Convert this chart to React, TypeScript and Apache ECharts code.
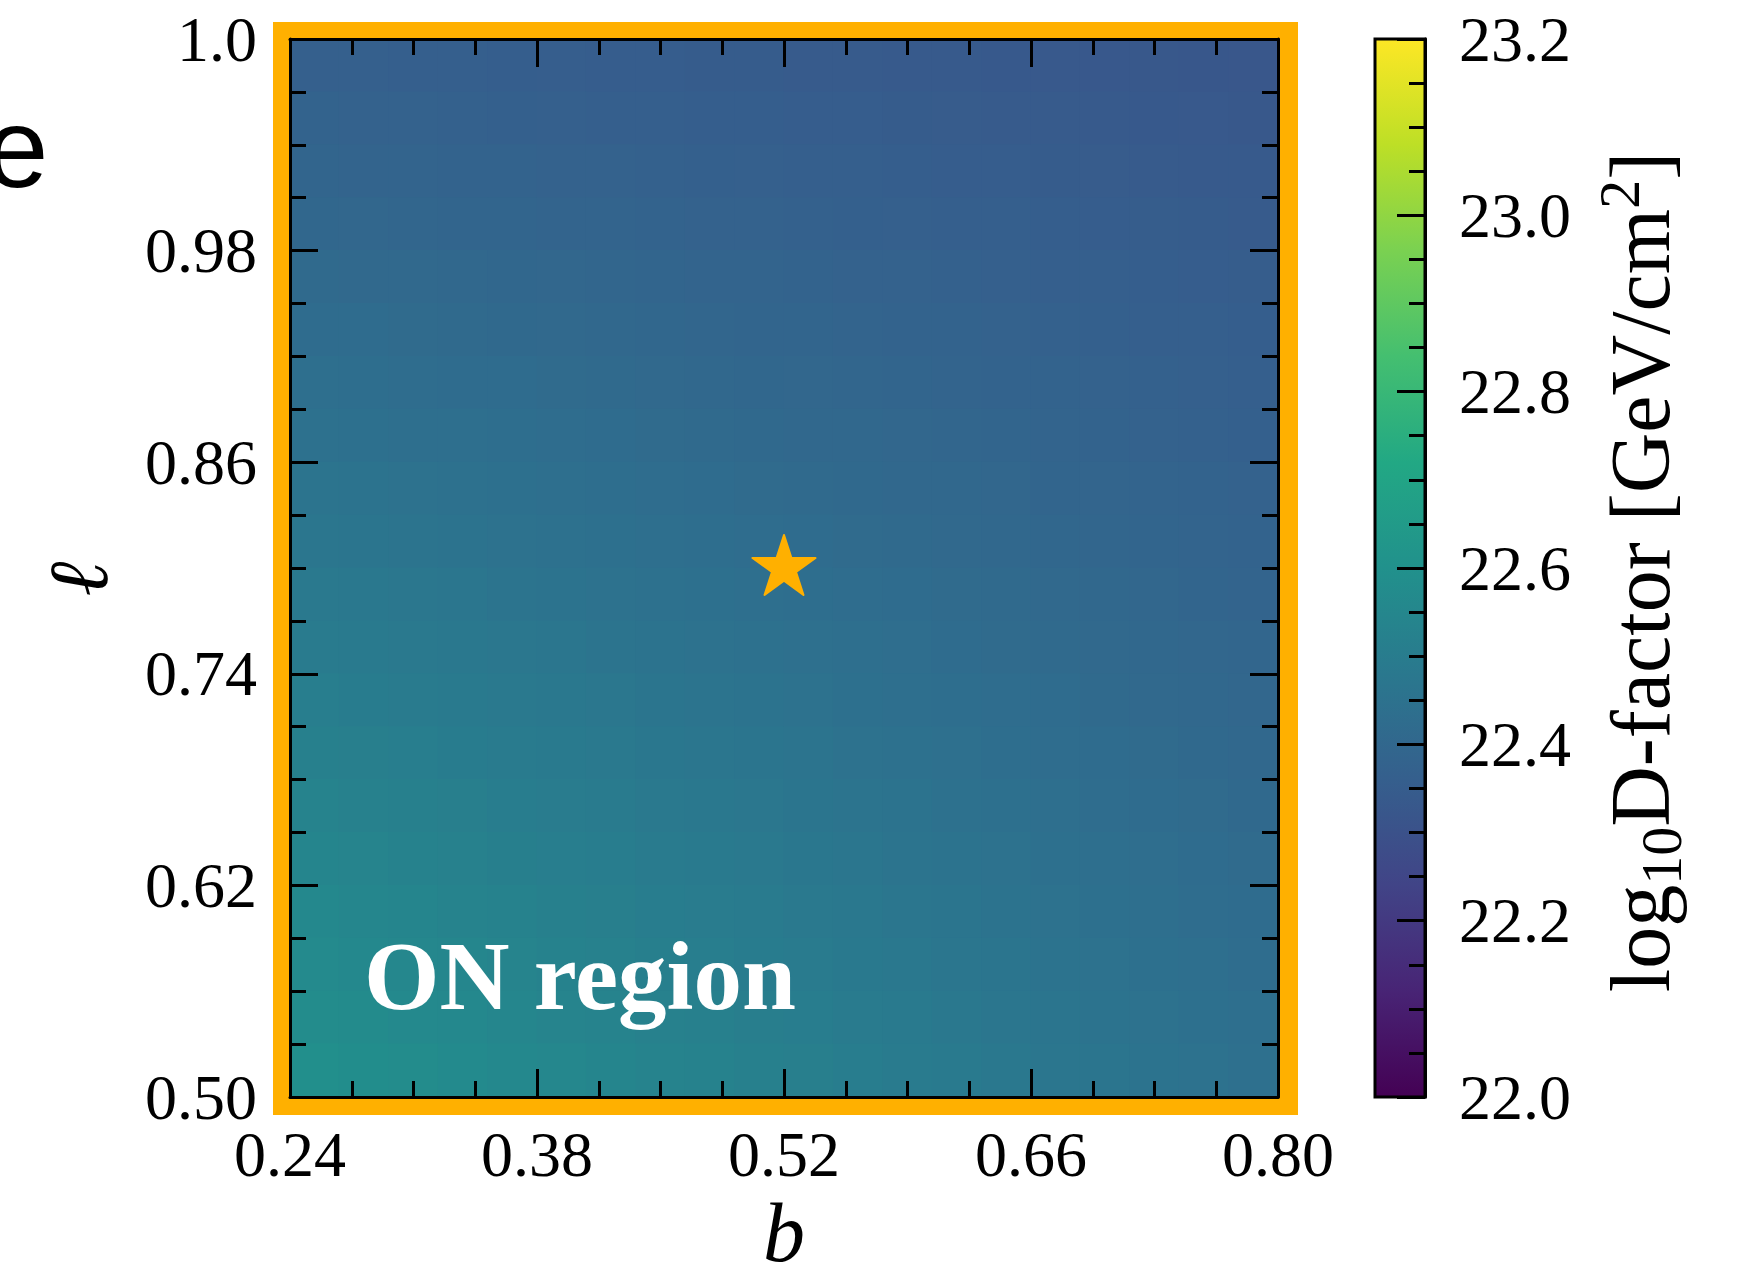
import React, { useEffect, useRef } from "react";
import * as echarts from "echarts";

// ---- data ----
const xTickLabels = ["0.24", "0.38", "0.52", "0.66", "0.80"];
const yTickLabels = ["0.50", "0.62", "0.74", "0.86", "0.98", "1.0"];
const colorMin = 22.0;
const colorMax = 23.2;
const colorStep = 0.2;

// log10 D-factor on a 20 x 20 grid; rows listed from top (high ℓ) to bottom (low ℓ), columns from low b to high b
const dRows = [
  [22.365, 22.363, 22.361, 22.358, 22.356, 22.354, 22.352, 22.350, 22.348, 22.346, 22.343, 22.341, 22.339, 22.337, 22.335, 22.333, 22.331, 22.328, 22.326, 22.324],
  [22.377, 22.374, 22.372, 22.369, 22.367, 22.365, 22.362, 22.360, 22.357, 22.355, 22.352, 22.350, 22.347, 22.345, 22.342, 22.340, 22.338, 22.335, 22.333, 22.330],
  [22.389, 22.386, 22.383, 22.380, 22.378, 22.375, 22.372, 22.369, 22.367, 22.364, 22.361, 22.358, 22.356, 22.353, 22.350, 22.347, 22.345, 22.342, 22.339, 22.336],
  [22.400, 22.397, 22.394, 22.391, 22.388, 22.385, 22.382, 22.379, 22.376, 22.373, 22.370, 22.367, 22.364, 22.361, 22.358, 22.355, 22.352, 22.349, 22.346, 22.343],
  [22.412, 22.409, 22.406, 22.402, 22.399, 22.396, 22.392, 22.389, 22.386, 22.382, 22.379, 22.375, 22.372, 22.369, 22.365, 22.362, 22.359, 22.355, 22.352, 22.349],
  [22.424, 22.421, 22.417, 22.413, 22.410, 22.406, 22.402, 22.399, 22.395, 22.391, 22.388, 22.384, 22.380, 22.377, 22.373, 22.369, 22.366, 22.362, 22.358, 22.355],
  [22.436, 22.432, 22.428, 22.424, 22.420, 22.416, 22.412, 22.408, 22.404, 22.400, 22.397, 22.393, 22.389, 22.385, 22.381, 22.377, 22.373, 22.369, 22.365, 22.361],
  [22.448, 22.444, 22.439, 22.435, 22.431, 22.427, 22.422, 22.418, 22.414, 22.410, 22.405, 22.401, 22.397, 22.393, 22.388, 22.384, 22.380, 22.376, 22.371, 22.367],
  [22.460, 22.455, 22.451, 22.446, 22.442, 22.437, 22.432, 22.428, 22.423, 22.419, 22.414, 22.410, 22.405, 22.401, 22.396, 22.391, 22.387, 22.382, 22.378, 22.373],
  [22.472, 22.467, 22.462, 22.457, 22.452, 22.447, 22.443, 22.438, 22.433, 22.428, 22.423, 22.418, 22.413, 22.409, 22.404, 22.399, 22.394, 22.389, 22.384, 22.379],
  [22.483, 22.478, 22.473, 22.468, 22.463, 22.458, 22.452, 22.447, 22.442, 22.437, 22.432, 22.427, 22.422, 22.416, 22.411, 22.406, 22.401, 22.396, 22.391, 22.386],
  [22.495, 22.490, 22.484, 22.479, 22.474, 22.468, 22.463, 22.457, 22.452, 22.446, 22.441, 22.435, 22.430, 22.424, 22.419, 22.414, 22.408, 22.403, 22.397, 22.392],
  [22.507, 22.501, 22.496, 22.490, 22.484, 22.478, 22.473, 22.467, 22.461, 22.455, 22.450, 22.444, 22.438, 22.432, 22.427, 22.421, 22.415, 22.409, 22.404, 22.398],
  [22.519, 22.513, 22.507, 22.501, 22.495, 22.489, 22.483, 22.477, 22.471, 22.465, 22.459, 22.452, 22.446, 22.440, 22.434, 22.428, 22.422, 22.416, 22.410, 22.404],
  [22.531, 22.524, 22.518, 22.512, 22.505, 22.499, 22.493, 22.486, 22.480, 22.474, 22.467, 22.461, 22.455, 22.448, 22.442, 22.436, 22.429, 22.423, 22.417, 22.410],
  [22.543, 22.536, 22.529, 22.523, 22.516, 22.509, 22.503, 22.496, 22.489, 22.483, 22.476, 22.470, 22.463, 22.456, 22.450, 22.443, 22.436, 22.430, 22.423, 22.416],
  [22.555, 22.548, 22.541, 22.534, 22.527, 22.520, 22.513, 22.506, 22.499, 22.492, 22.485, 22.478, 22.471, 22.464, 22.457, 22.450, 22.443, 22.436, 22.429, 22.422],
  [22.566, 22.559, 22.552, 22.545, 22.537, 22.530, 22.523, 22.516, 22.508, 22.501, 22.494, 22.487, 22.479, 22.472, 22.465, 22.458, 22.450, 22.443, 22.436, 22.429],
  [22.578, 22.571, 22.563, 22.556, 22.548, 22.540, 22.533, 22.525, 22.518, 22.510, 22.503, 22.495, 22.488, 22.480, 22.472, 22.465, 22.457, 22.450, 22.442, 22.435],
  [22.590, 22.582, 22.574, 22.567, 22.559, 22.551, 22.543, 22.535, 22.527, 22.519, 22.512, 22.504, 22.496, 22.488, 22.480, 22.472, 22.464, 22.457, 22.449, 22.441],
];

const starB = 0.52;
const starL = 0.80;

const viridis = [
  "#440154", "#482475", "#414487", "#355f8d", "#2a788e", "#21918c",
  "#22a884", "#44bf70", "#7ad151", "#bddf26", "#fde725",
];

const ORANGE = "#FFB000";
const SERIF = "'Liberation Serif', 'Times New Roman', serif";
const STAR_PATH =
  "path://M0,-100 L22.45,-30.9 L95.1,-30.9 L36.3,11.8 L58.8,80.9 L0,38.2 L-58.8,80.9 L-36.3,11.8 L-95.1,-30.9 L-22.45,-30.9 Z";

export default function App() {
  const ref = useRef<HTMLDivElement>(null);

  useEffect(() => {
    if (!ref.current) return;
    const chart = echarts.init(ref.current, undefined, { renderer: "svg" });

    const nCols = dRows[0].length;
    const nRows = dRows.length;
    const xSpan = xTickLabels.length - 1;
    const ySpan = yTickLabels.length - 1;
    const cellW = xSpan / nCols;
    const cellH = ySpan / nRows;
    const cells: number[][] = [];
    dRows.forEach((row, r) => {
      row.forEach((v, c) => {
        cells.push([(c + 0.5) * cellW, ySpan - (r + 0.5) * cellH, v]);
      });
    });

    const x0 = parseFloat(xTickLabels[0]);
    const dx = parseFloat(xTickLabels[1]) - x0;
    const y0 = parseFloat(yTickLabels[0]);
    const dy = parseFloat(yTickLabels[1]) - y0;
    const starPoint = [(starB - x0) / dx, (starL - y0) / dy];

    const axisCommon: any = {
      type: "value",
      z: 10,
      axisLine: { show: true, onZero: false, lineStyle: { color: "#000", width: 3 } },
      axisTick: { show: true, inside: true, length: 28, lineStyle: { color: "#000", width: 3 } },
      minorTick: { show: true, splitNumber: 4, length: 16, lineStyle: { color: "#000", width: 3 } },
      splitLine: { show: false },
      minorSplitLine: { show: false },
    };
    const labelStyle = { fontSize: 64, fontFamily: SERIF, color: "#000" };

    const gradStops = viridis
      .map((c, i) => ({ offset: 1 - i / (viridis.length - 1), color: c }))
      .reverse();

    const option: any = {
      animation: false,
      backgroundColor: "#fff",
      grid: [
        { left: 290, top: 39, width: 988, height: 1058, containLabel: false, outerBoundsMode: "none" },
        { left: 1375, top: 39, width: 50, height: 1058, containLabel: false, outerBoundsMode: "none" },
      ],
      visualMap: {
        show: false,
        type: "continuous",
        min: colorMin,
        max: colorMax,
        dimension: 2,
        seriesIndex: 0,
        inRange: { color: viridis },
      },
      xAxis: [
        {
          ...axisCommon,
          gridIndex: 0,
          position: "bottom",
          min: 0,
          max: xSpan,
          interval: 1,
          axisLabel: {
            show: true,
            margin: 25,
            ...labelStyle,
            formatter: (v: number) => xTickLabels[Math.round(v)] ?? "",
          },
          name: "b",
          nameLocation: "middle",
          nameGap: 98,
          nameTextStyle: { fontSize: 84, lineHeight: 60, fontStyle: "italic", fontFamily: SERIF, color: "#000" },
        },
        {
          ...axisCommon,
          gridIndex: 0,
          position: "top",
          min: 0,
          max: xSpan,
          interval: 1,
          axisLabel: { show: false },
        },
        { type: "value", gridIndex: 1, show: false, min: 0, max: 1 },
      ],
      yAxis: [
        {
          ...axisCommon,
          gridIndex: 0,
          position: "left",
          min: 0,
          max: ySpan,
          interval: 1,
          axisLabel: {
            show: true,
            margin: 33,
            ...labelStyle,
            formatter: (v: number) => yTickLabels[Math.round(v)] ?? "",
          },
          name: "ℓ",
          nameLocation: "middle",
          nameGap: 170,
          nameRotate: 90,
          nameTextStyle: {
            fontSize: 84,
            fontStyle: "italic",
            fontFamily: SERIF,
            color: "#000",
            padding: [0, 22, 0, 0],
          },
        },
        {
          ...axisCommon,
          gridIndex: 0,
          position: "right",
          min: 0,
          max: ySpan,
          interval: 1,
          axisLabel: { show: false },
        },
        {
          ...axisCommon,
          gridIndex: 1,
          position: "right",
          min: colorMin,
          max: colorMax,
          interval: colorStep,
          axisLabel: {
            show: true,
            margin: 34,
            ...labelStyle,
            formatter: (v: number) => v.toFixed(1),
          },
        },
      ],
      series: [
        {
          type: "custom",
          xAxisIndex: 0,
          yAxisIndex: 0,
          z: 2,
          data: cells,
          encode: { x: 0, y: 1 },
          renderItem: (params: any, api: any) => {
            const cx = api.value(0);
            const cy = api.value(1);
            const p0 = api.coord([cx - cellW / 2, cy + cellH / 2]);
            const p1 = api.coord([cx + cellW / 2, cy - cellH / 2]);
            return {
              type: "rect",
              shape: {
                x: p0[0] - 0.5,
                y: p0[1] - 0.5,
                width: p1[0] - p0[0] + 1,
                height: p1[1] - p0[1] + 1,
              },
              style: { fill: api.visual("color") },
            };
          },
        },
        {
          type: "scatter",
          xAxisIndex: 0,
          yAxisIndex: 0,
          z: 5,
          data: [starPoint],
          symbol: STAR_PATH,
          symbolSize: [63, 60],
          symbolOffset: [0, -3],
          itemStyle: { color: ORANGE, opacity: 1, borderColor: ORANGE, borderWidth: 2, borderJoin: "round" },
        },
      ],
      graphic: [
        {
          type: "rect",
          z: -1,
          shape: { x: 273, y: 22, width: 1025, height: 1093 },
          style: { fill: ORANGE },
        },
        {
          type: "rect",
          z: 1,
          shape: { x: 1375, y: 39, width: 50, height: 1058 },
          style: {
            fill: new echarts.graphic.LinearGradient(0, 0, 0, 1, gradStops),
            stroke: "#000",
            lineWidth: 3,
          },
        },
        {
          type: "text",
          z: 20,
          x: 364,
          y: 976,
          style: {
            text: "ON region",
            fill: "#fff",
            fontSize: 97,
            fontWeight: "bold",
            fontFamily: SERIF,
            align: "left",
            verticalAlign: "middle",
          },
        },
        {
          type: "text",
          z: 20,
          x: -15,
          y: 147,
          style: {
            text: "e",
            fill: "#000",
            fontSize: 114,
            fontFamily: "'Liberation Sans', Arial, sans-serif",
            align: "left",
            verticalAlign: "middle",
          },
        },
        {
          type: "text",
          z: 20,
          x: 1640,
          y: 572,
          rotation: Math.PI / 2,
          style: {
            text: "{n|log}{s|10}{n|D-factor [GeV/cm}{p|2}{n|]}",
            align: "center",
            verticalAlign: "middle",
            fill: "#000",
            rich: {
              n: { fontSize: 84, fontFamily: SERIF, color: "#000", lineHeight: 100, verticalAlign: "middle" },
              s: { fontSize: 58, fontFamily: SERIF, color: "#000", lineHeight: 58, verticalAlign: "bottom" },
              p: { fontSize: 58, fontFamily: SERIF, color: "#000", lineHeight: 58, verticalAlign: "top" },
            },
          },
        },
      ],
    };

    chart.setOption(option);
    return () => chart.dispose();
  }, []);

  return (
    <div
      ref={ref}
      style={{ position: "absolute", left: 0, top: 0, width: 1742, height: 1273, background: "#fff" }}
    />
  );
}
